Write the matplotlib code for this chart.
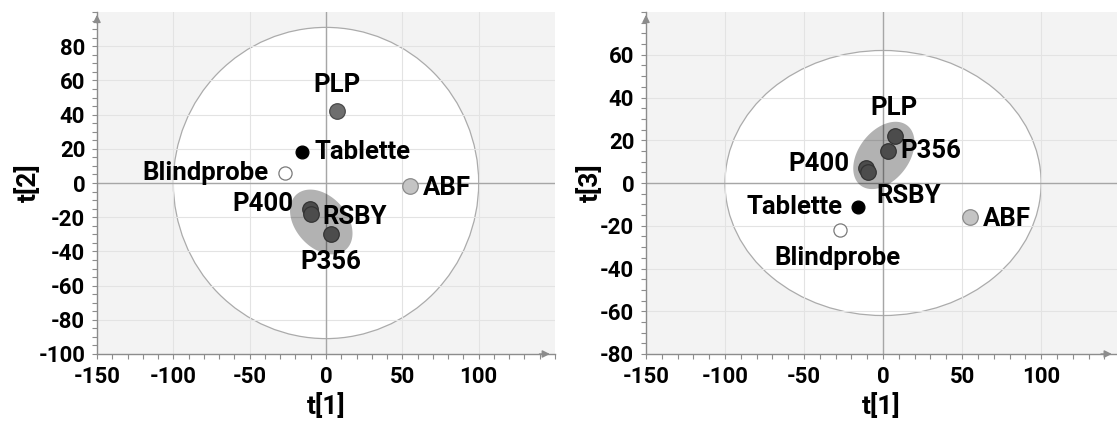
import numpy as np
import matplotlib
matplotlib.use("Agg")
import matplotlib.pyplot as plt
from matplotlib.patches import Ellipse, Polygon

plt.rcParams['font.family'] = ['Roboto', 'DejaVu Sans']
plt.rcParams['font.weight'] = 'bold'
plt.rcParams['axes.unicode_minus'] = False

# PCA scores per sample group
samples = ["PLP", "P356", "P400", "RSBY", "Tablette", "Blindprobe", "ABF"]
t1 = [7.5, 3, -10.5, -9.5, -16, -27, 55]
t2 = [42, -30, -15, -18, 18, 6, -2]
t3 = [22, 15, 7, 5, -11, -22, -16]

face = {"PLP": "#6e6e6e", "P356": "#6e6e6e", "P400": "#6e6e6e", "RSBY": "#6e6e6e",
        "Tablette": "#000000", "Blindprobe": "#ffffff", "ABF": "#c4c4c4"}
edge = {"PLP": "#4a4a4a", "P356": "#4a4a4a", "P400": "#4a4a4a", "RSBY": "#4a4a4a",
        "Tablette": "#000000", "Blindprobe": "#7a7a7a", "ABF": "#8a8a8a"}
size = {"Tablette": 85, "Blindprobe": 90}

# Hotelling T2 ellipse half-axes (t1, ty)
t2_ellipse_left = (100, 91)
t2_ellipse_right = (100, 62)

# group region around the PLP/P356/P400/RSBY cluster: center, two conjugate half-axes
group_left = ((-3.1, -22.8), (16.2, -16.1), (12.5, 10.0))
group_right = ((0.5, 12.9), (14.8, 14.0), (12.5, -7.2))

# label offsets in points (dx, dy, ha, va)
lab_left = {"PLP": (0, 19, "center", "center"), "P356": (0, -20, "center", "center"),
            "P400": (-12, 3, "right", "center"), "RSBY": (8, -2, "left", "center"),
            "Tablette": (9, 0, "left", "center"), "Blindprobe": (-12, 0, "right", "center"),
            "ABF": (9, -1, "left", "center")}
lab_right = {"PLP": (-1, 20, "center", "center"), "P356": (9, 0, "left", "center"),
             "P400": (-12, 3, "right", "center"), "RSBY": (29, -17, "center", "center"),
             "Tablette": (-11, 0, "right", "center"), "Blindprobe": (-2, -20, "center", "center"),
             "ABF": (9, -1, "left", "center")}

W, H = 1117, 421
fig = plt.figure(figsize=(W / 100, H / 100), dpi=100)
ax1 = fig.add_axes([97 / W, 67 / H, 458 / W, 342 / H])
ax2 = fig.add_axes([646 / W, 67 / H, 471 / W, 342 / H])


def draw_panel(ax, ys, ylim, ystep, t2ell, group, labels, xlabel, ylabel, xmax):
    ax.set_xlim(-150, xmax)
    ax.set_ylim(*ylim)
    ax.set_facecolor("#f3f3f3")
    ax.set_axisbelow(True)
    ax.add_patch(Ellipse((0, 0), 2 * t2ell[0], 2 * t2ell[1], facecolor="white",
                         edgecolor="#ababab", lw=0.9, zorder=0.3))
    ax.grid(True, color="#e3e3e3", lw=0.8)
    ax.axhline(0, color="#a6a6a6", lw=1.0, zorder=0.6)
    ax.axvline(0, color="#a6a6a6", lw=1.0, zorder=0.6)

    for s, x, y in zip(samples, t1, ys):
        ax.scatter(x, y, s=size.get(s, 125), c=face[s], edgecolors=edge[s],
                   linewidths=0.9, zorder=3)
        dx, dy, ha, va = labels[s]
        ax.annotate(s, (x, y), xytext=(dx, dy), textcoords="offset points",
                    ha=ha, va=va, fontsize=18.5, fontweight="bold", zorder=5)

    c, u, v = group
    tt = np.linspace(0, 2 * np.pi, 200)
    pts = np.column_stack([c[0] + np.cos(tt) * u[0] + np.sin(tt) * v[0],
                           c[1] + np.cos(tt) * u[1] + np.sin(tt) * v[1]])
    ax.add_patch(Polygon(pts, closed=True, facecolor="black", alpha=0.3,
                         edgecolor="none", zorder=4))

    ax.set_xticks([-150, -100, -50, 0, 50, 100])
    ax.set_xticks(np.arange(-150, xmax + 1, 10), minor=True)
    ax.set_yticks(np.arange(ylim[0], ylim[1], ystep))
    ax.set_yticks(np.arange(ylim[0], ylim[1] + 1, 5), minor=True)
    ax.tick_params(which="both", direction="out", color="#8c8c8c", length=3.5,
                   width=0.8, labelsize=16, pad=5)
    for lab in ax.get_xticklabels() + ax.get_yticklabels():
        lab.set_fontweight("bold")

    for side in ("top", "right"):
        ax.spines[side].set_visible(False)
    for side in ("left", "bottom"):
        ax.spines[side].set_color("#8c8c8c")
        ax.spines[side].set_linewidth(1.0)

    # arrow heads at the axis ends
    ax.annotate("", xy=(0.995, 0), xytext=(0.96, 0), xycoords="axes fraction",
                arrowprops=dict(arrowstyle="-|>", color="#8c8c8c", lw=1.0,
                                mutation_scale=11), annotation_clip=False)
    ax.annotate("", xy=(0, 1.0), xytext=(0, 0.96), xycoords="axes fraction",
                arrowprops=dict(arrowstyle="-|>", color="#8c8c8c", lw=1.0,
                                mutation_scale=11), annotation_clip=False)

    ax.set_xlabel(xlabel, fontsize=19, fontweight="bold", labelpad=4)
    ax.set_ylabel(ylabel, fontsize=19, fontweight="bold", labelpad=-2)


draw_panel(ax1, t2, (-100, 100), 20, t2_ellipse_left, group_left, lab_left,
           "t[1]", "t[2]", 150)
draw_panel(ax2, t3, (-80, 80), 20, t2_ellipse_right, group_right, lab_right,
           "t[1]", "t[3]", 148)

fig.savefig("out.png", dpi=100)
